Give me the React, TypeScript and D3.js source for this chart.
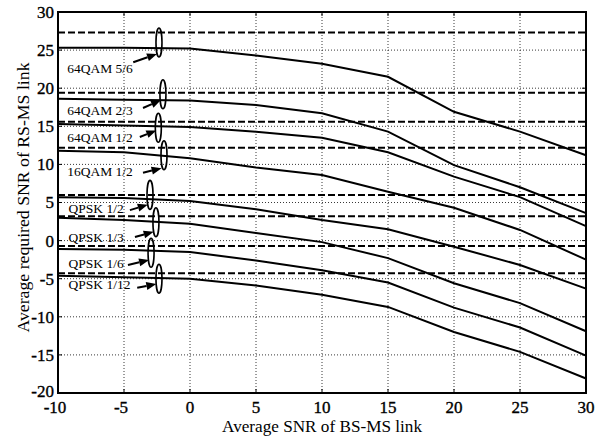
import * as d3 from 'd3'
import React, { useEffect, useRef } from 'react'

// BS-MS link SNR (x) sample points
const snrBsMs = [-10, -5, 0, 5, 10, 15, 20, 25, 30]

const schemes = [
  '64QAM 5/6',
  '64QAM 2/3',
  '64QAM 1/2',
  '16QAM 1/2',
  'QPSK 1/2',
  'QPSK 1/3',
  'QPSK 1/6',
  'QPSK 1/12'
]

// required RS-MS SNR for each scheme, read at snrBsMs
const required64qam56 = [25.3, 25.3, 25.2, 24.3, 23.2, 21.5, 16.9, 14.3, 11.2]
const required64qam23 = [18.6, 18.5, 18.4, 17.8, 16.7, 14.3, 9.9, 7.0, 3.6]
const required64qam12 = [15.3, 15.1, 14.9, 14.3, 13.5, 11.6, 8.4, 5.7, 1.9]
const required16qam12 = [11.8, 11.6, 10.8, 9.6, 8.6, 6.4, 4.3, 1.4, -2.5]
const requiredQpsk12 = [5.7, 5.6, 5.2, 4.1, 2.7, 1.5, -0.8, -3.2, -6.3]
const requiredQpsk13 = [3.0, 2.7, 2.2, 1.0, -0.2, -2.3, -5.6, -8.2, -11.9]
const requiredQpsk16 = [-1.1, -1.2, -1.5, -2.6, -3.9, -5.5, -8.8, -11.4, -15.1]
const requiredQpsk112 = [-4.6, -4.8, -5.0, -5.9, -7.1, -8.7, -12.0, -14.6, -18.1]

const requiredSeries = [
  required64qam56,
  required64qam23,
  required64qam12,
  required16qam12,
  requiredQpsk12,
  requiredQpsk13,
  requiredQpsk16,
  requiredQpsk112
]

// direct link thresholds (dashed)
const thresholds = [27.3, 19.4, 15.6, 12.2, 6.0, 3.2, -0.7, -4.3]

const xTicks = [-10, -5, 0, 5, 10, 15, 20, 25, 30]
const yTicks = [-20, -15, -10, -5, 0, 5, 10, 15, 20, 25, 30]

// annotation anchors, in data units
const ovalX = [-2.35, -2.05, -2.4, -1.97, -3.03, -2.58, -2.95, -2.35]
const ovalY = [26.0, 19.2, 14.8, 11.2, 6.0, 2.4, -1.6, -5.0]
const labelX = [-9.3, -9.3, -9.3, -9.3, -9.2, -9.2, -9.2, -9.2]
const labelY = [22.0, 16.5, 12.9, 8.5, 3.6, -0.2, -3.6, -6.35]
const arrowFrom = [[-4.3, 23.4], [-3.56, 17.4], [-3.8, 13.6], [-3.56, 8.9], [-4.55, 4.0], [-4.17, 0.47], [-4.7, -3.2], [-4.0, -6.2]]
const arrowTo = [[-2.5, 24.5], [-2.2, 18.45], [-2.55, 14.45], [-2.15, 9.5], [-3.2, 4.7], [-2.75, 1.15], [-3.1, -2.55], [-2.55, -5.7]]

const W = 605
const H = 439
const margin = { left: 58, right: 19, top: 12, bottom: 46 }
const font = "'Liberation Serif', 'Times New Roman', serif"

export default function App() {
  const ref = useRef<SVGSVGElement>(null)

  useEffect(() => {
    const svg = d3.select(ref.current)
    svg.selectAll('*').remove()

    const x = d3
      .scaleLinear()
      .domain([-10, 30])
      .range([margin.left, W - margin.right])
    const y = d3
      .scaleLinear()
      .domain([-20, 30])
      .range([H - margin.bottom, margin.top])

    // grid
    const grid = svg.append('g').attr('stroke', '#222').attr('stroke-width', 0.9).attr('stroke-dasharray', '1,2')
    grid
      .selectAll('line.gx')
      .data(xTicks.slice(1, -1))
      .enter()
      .append('line')
      .attr('x1', d => x(d))
      .attr('x2', d => x(d))
      .attr('y1', y(-20))
      .attr('y2', y(30))
    grid
      .selectAll('line.gy')
      .data(yTicks.slice(1, -1))
      .enter()
      .append('line')
      .attr('y1', d => y(d))
      .attr('y2', d => y(d))
      .attr('x1', x(-10))
      .attr('x2', x(30))

    // thresholds
    svg
      .append('g')
      .selectAll('line')
      .data(thresholds)
      .enter()
      .append('line')
      .attr('x1', x(-10))
      .attr('x2', x(30))
      .attr('y1', d => y(d))
      .attr('y2', d => y(d))
      .attr('stroke', '#000')
      .attr('stroke-width', 2)
      .attr('stroke-dasharray', '7,3')

    // curves
    const line = d3
      .line<number>()
      .x((_, i) => x(snrBsMs[i]))
      .y(d => y(d))
    svg
      .append('g')
      .selectAll('path')
      .data(requiredSeries)
      .enter()
      .append('path')
      .attr('d', d => line(d))
      .attr('fill', 'none')
      .attr('stroke', '#000')
      .attr('stroke-width', 2)

    // frame
    svg
      .append('rect')
      .attr('x', x(-10))
      .attr('y', y(30))
      .attr('width', x(30) - x(-10))
      .attr('height', y(-20) - y(30))
      .attr('fill', 'none')
      .attr('stroke', '#000')
      .attr('stroke-width', 2)

    // inward ticks
    const ticks = svg.append('g').attr('stroke', '#000').attr('stroke-width', 1)
    xTicks.forEach(t => {
      ticks.append('line').attr('x1', x(t)).attr('x2', x(t)).attr('y1', y(-20)).attr('y2', y(-20) - 4)
      ticks.append('line').attr('x1', x(t)).attr('x2', x(t)).attr('y1', y(30)).attr('y2', y(30) + 4)
    })
    yTicks.forEach(t => {
      ticks.append('line').attr('y1', y(t)).attr('y2', y(t)).attr('x1', x(-10)).attr('x2', x(-10) + 4)
      ticks.append('line').attr('y1', y(t)).attr('y2', y(t)).attr('x1', x(30)).attr('x2', x(30) - 4)
    })

    // tick labels
    svg
      .append('g')
      .selectAll('text')
      .data(xTicks)
      .enter()
      .append('text')
      .attr('x', d => x(d) - (d < 0 ? 3 : 0))
      .attr('y', y(-20) + 20)
      .attr('text-anchor', 'middle')
      .style('font-family', font)
      .style('font-size', '17px')
      .attr('stroke', '#000')
      .attr('stroke-width', 0.35)
      .text(d => d)
    svg
      .append('g')
      .selectAll('text')
      .data(yTicks)
      .enter()
      .append('text')
      .attr('x', x(-10) - 4)
      .attr('y', d => y(d) - (d === -20 ? 2 : 0))
      .attr('dy', '0.35em')
      .attr('text-anchor', 'end')
      .style('font-family', font)
      .style('font-size', '17px')
      .attr('stroke', '#000')
      .attr('stroke-width', 0.35)
      .text(d => d)

    // axis titles
    svg
      .append('text')
      .attr('x', (x(-10) + x(30)) / 2)
      .attr('y', H - 7)
      .attr('text-anchor', 'middle')
      .attr('textLength', 200)
      .attr('lengthAdjust', 'spacingAndGlyphs')
      .style('font-family', font)
      .style('font-size', '17px')
      .text('Average SNR of BS-MS link')
    svg
      .append('text')
      .attr('transform', `translate(29,${(y(-20) + y(30)) / 2 - 5}) rotate(-90)`)
      .attr('text-anchor', 'middle')
      .attr('textLength', 270)
      .attr('lengthAdjust', 'spacingAndGlyphs')
      .style('font-family', font)
      .style('font-size', '17px')
      .text('Average required SNR of RS-MS link')

    // annotations: oval round the crossing, arrow and scheme name
    const ann = svg.append('g')
    schemes.forEach((s, i) => {
      ann
        .append('ellipse')
        .attr('cx', x(ovalX[i]))
        .attr('cy', y(ovalY[i]))
        .attr('rx', 3)
        .attr('ry', 14.5)
        .attr('fill', 'none')
        .attr('stroke', '#000')
        .attr('stroke-width', 1.6)

      const x1 = x(arrowFrom[i][0])
      const y1 = y(arrowFrom[i][1])
      const x2 = x(arrowTo[i][0])
      const y2 = y(arrowTo[i][1])
      const ang = Math.atan2(y2 - y1, x2 - x1)
      const len = 10
      const half = 4
      const bx = x2 - len * Math.cos(ang)
      const by = y2 - len * Math.sin(ang)
      ann
        .append('path')
        .attr('d', `M${x1},${y1}L${bx},${by}`)
        .attr('stroke', '#000')
        .attr('stroke-width', 2)
        .attr('fill', 'none')
      ann
        .append('path')
        .attr(
          'd',
          `M${x2},${y2}L${bx - half * Math.sin(ang)},${by + half * Math.cos(ang)}L${bx + half * Math.sin(ang)},${by - half * Math.cos(ang)}Z`
        )
        .attr('fill', '#000')

      ann
        .append('text')
        .attr('x', x(labelX[i]))
        .attr('y', y(labelY[i]))
        .style('font-family', font)
        .style('font-size', '13.5px')
        .text(s)
    })
  }, [ref])

  return (
    <svg
      ref={ref}
      width={W}
      height={H}
      style={{ position: 'absolute', left: 0, top: 0, background: '#fff' }}
    />
  )
}
